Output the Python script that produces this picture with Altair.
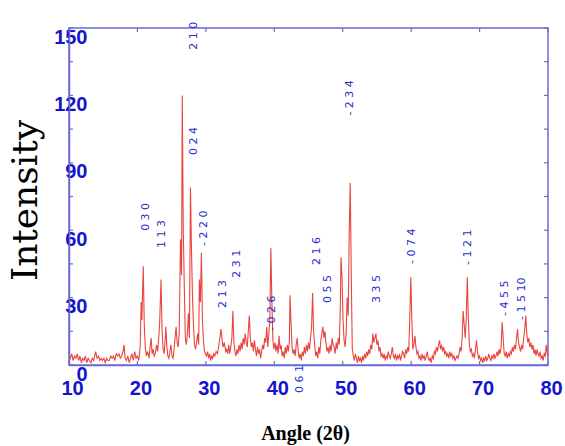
import altair as alt
import pandas as pd

# ---------------- data ----------------
angle = [
    10.0, 10.2, 10.4, 10.6, 10.8, 11.0, 11.2, 11.4, 11.6, 11.8, 12.0, 12.2, 12.4, 12.6, 12.8,
    13.0, 13.2, 13.4, 13.6, 13.9, 14.1, 14.3, 14.5, 14.7, 14.9, 15.1, 15.3, 15.5, 15.7, 15.9,
    16.1, 16.3, 16.5, 16.7, 16.9, 17.1, 17.3, 17.5, 17.7, 17.9, 18.05, 18.2, 18.4, 18.6, 18.8,
    19.0, 19.2, 19.4, 19.6, 19.8, 20.0, 20.2, 20.4, 20.55, 20.65, 20.85, 21.0, 21.15, 21.3, 21.5,
    21.7, 21.85, 22.0, 22.15, 22.3, 22.45, 22.6, 22.8, 22.95, 23.1, 23.25, 23.45, 23.6, 23.75, 23.9,
    24.05, 24.15, 24.3, 24.45, 24.6, 24.75, 24.9, 25.05, 25.2, 25.35, 25.5, 25.65, 25.8, 25.95, 26.1,
    26.3, 26.45, 26.55, 26.7, 26.85, 27.0, 27.15, 27.3, 27.45, 27.6, 27.75, 27.9, 28.05, 28.2, 28.35,
    28.5, 28.65, 28.8, 28.95, 29.05, 29.2, 29.35, 29.5, 29.65, 29.8, 29.95, 30.1, 30.25, 30.4, 30.55,
    30.7, 30.85, 31.0, 31.15, 31.3, 31.5, 31.7, 31.9, 32.05, 32.2, 32.35, 32.5, 32.7, 32.9, 33.05,
    33.2, 33.35, 33.5, 33.65, 33.8, 33.95, 34.1, 34.25, 34.4, 34.55, 34.7, 34.85, 35.0, 35.15, 35.3,
    35.45, 35.6, 35.75, 35.9, 36.05, 36.2, 36.35, 36.5, 36.65, 36.8, 36.95, 37.1, 37.25, 37.4, 37.55,
    37.7, 37.85, 38.0, 38.15, 38.3, 38.45, 38.6, 38.75, 38.9, 39.05, 39.2, 39.35, 39.5, 39.65, 39.8,
    39.95, 40.1, 40.25, 40.4, 40.55, 40.7, 40.85, 41.0, 41.15, 41.3, 41.45, 41.6, 41.75, 41.9, 42.05,
    42.2, 42.3, 42.45, 42.6, 42.75, 42.9, 43.05, 43.2, 43.35, 43.5, 43.65, 43.8, 43.95, 44.1, 44.25,
    44.4, 44.55, 44.7, 44.85, 45.0, 45.15, 45.3, 45.45, 45.6, 45.75, 45.9, 46.05, 46.2, 46.35, 46.5,
    46.65, 46.8, 46.95, 47.1, 47.25, 47.4, 47.55, 47.7, 47.85, 48.0, 48.15, 48.3, 48.45, 48.6, 48.75,
    48.9, 49.05, 49.2, 49.35, 49.5, 49.65, 49.75, 49.9, 50.05, 50.2, 50.35, 50.5, 50.65, 50.8, 50.95,
    51.1, 51.25, 51.4, 51.55, 51.7, 51.85, 52.0, 52.15, 52.3, 52.45, 52.6, 52.75, 52.9, 53.05, 53.2,
    53.35, 53.5, 53.65, 53.8, 53.95, 54.1, 54.25, 54.4, 54.55, 54.7, 54.85, 55.0, 55.15, 55.3, 55.45,
    55.6, 55.75, 55.9, 56.05, 56.2, 56.35, 56.5, 56.65, 56.8, 56.95, 57.1, 57.25, 57.4, 57.55, 57.7,
    57.85, 58.0, 58.15, 58.3, 58.45, 58.6, 58.75, 58.9, 59.05, 59.2, 59.35, 59.5, 59.65, 59.8, 59.95,
    60.1, 60.25, 60.4, 60.55, 60.7, 60.85, 61.0, 61.15, 61.3, 61.45, 61.6, 61.75, 61.9, 62.05, 62.2,
    62.35, 62.5, 62.65, 62.8, 62.95, 63.1, 63.25, 63.4, 63.55, 63.7, 63.85, 64.0, 64.15, 64.3, 64.45,
    64.6, 64.75, 64.9, 65.05, 65.2, 65.35, 65.5, 65.65, 65.8, 65.95, 66.1, 66.25, 66.4, 66.55, 66.7,
    66.85, 67.0, 67.15, 67.3, 67.45, 67.6, 67.75, 67.9, 68.05, 68.2, 68.35, 68.5, 68.65, 68.8, 68.95,
    69.1, 69.25, 69.4, 69.55, 69.7, 69.85, 70.0, 70.15, 70.3, 70.45, 70.6, 70.75, 70.9, 71.05, 71.2,
    71.35, 71.5, 71.65, 71.8, 71.95, 72.1, 72.25, 72.4, 72.55, 72.7, 72.85, 73.0, 73.15, 73.3, 73.45,
    73.6, 73.75, 73.9, 74.05, 74.2, 74.35, 74.5, 74.65, 74.8, 74.95, 75.1, 75.25, 75.4, 75.55, 75.7,
    75.85, 76.0, 76.15, 76.3, 76.45, 76.6, 76.75, 76.9, 77.05, 77.2, 77.35, 77.5, 77.65, 77.8, 77.95,
    78.1, 78.25, 78.4, 78.55, 78.7, 78.85, 79.0, 79.15, 79.3, 79.45, 79.6, 79.75, 79.9, 80.0,
]
intensity = [
    4, 3, 5, 2, 4, 3, 5, 2, 4, 1, 3, 2, 4, 1, 3,
    2, 1, 3, 2, 6, 3, 4, 2, 3, 2, 3, 1, 3, 2, 2,
    4, 3, 4, 2, 5, 4, 5, 3, 4, 6, 9, 3, 2, 4, 1,
    3, 5, 2, 6, 3, 4, 2, 8, 28, 20, 44, 18, 8, 4, 6,
    3, 8, 12, 5, 7, 4, 5, 9, 6, 11, 19, 38, 15, 7, 5,
    11, 17, 8, 4, 3, 6, 9, 4, 3, 7, 12, 17, 10, 8, 14,
    56, 40, 120, 60, 35, 12, 9, 14, 23, 12, 79, 51, 30, 17, 9,
    7, 10, 14, 9, 38, 28, 50, 20, 11, 6, 5, 4, 6, 3, 5,
    2, 4, 3, 5, 4, 6, 5, 9, 12, 16, 12, 8, 10, 6, 7,
    5, 9, 5, 8, 12, 24, 10, 6, 4, 7, 5, 9, 6, 10, 7,
    12, 9, 14, 10, 8, 15, 22, 12, 8, 10, 6, 11, 7, 4, 8,
    5, 7, 3, 6, 9, 7, 12, 10, 17, 8, 14, 20, 52, 28, 11,
    7, 10, 6, 9, 5, 13, 7, 9, 4, 6, 3, 8, 5, 9, 6,
    10, 31, 18, 8, 5, 7, 4, 9, 12, 6, 3, 5, 2, 6, 4,
    8, 5, 9, 6, 10, 7, 12, 17, 32, 15, 9, 4, 6, 3, 8,
    5, 11, 14, 17, 12, 15, 10, 6, 8, 5, 9, 6, 12, 9, 8,
    5, 10, 7, 12, 9, 26, 48, 39, 20, 11, 8, 14, 30, 22, 59,
    81, 40, 7, 4, 2, 5, 3, 1, 4, 2, 3, 1, 4, 2, 5,
    3, 6, 4, 7, 5, 9, 7, 14, 10, 12, 14, 9, 11, 6, 8,
    4, 5, 3, 5, 2, 4, 3, 6, 4, 3, 5, 8, 4, 3, 5,
    2, 4, 3, 5, 2, 4, 6, 5, 3, 7, 5, 8, 6, 21, 39,
    20, 7, 9, 13, 8, 5, 6, 3, 4, 2, 5, 3, 4, 2, 4,
    6, 3, 2, 3, 1, 4, 3, 6, 5, 8, 6, 9, 11, 7, 9,
    6, 8, 5, 6, 4, 5, 3, 6, 4, 5, 3, 4, 2, 3, 4,
    3, 5, 8, 6, 12, 24, 18, 12, 20, 39, 22, 9, 6, 7, 4,
    5, 3, 7, 11, 6, 3, 4, 2, 3, 1, 3, 2, 4, 2, 3,
    5, 3, 2, 4, 3, 5, 3, 4, 6, 4, 7, 5, 8, 19, 12,
    5, 4, 6, 3, 5, 4, 6, 5, 8, 6, 9, 7, 12, 16, 10,
    8, 6, 9, 7, 12, 16, 22, 14, 10, 12, 8, 10, 7, 9, 5,
    7, 4, 7, 5, 4, 6, 3, 4, 2, 5, 4, 9, 5, 4,
]

x_ticks = [10, 20, 30, 40, 50, 60, 70, 80]
y_ticks = [0, 15, 30, 45, 60, 75, 90, 105, 120, 135, 150]
y_labels = [0, 30, 60, 90, 120, 150]

peak_labels = [
    "0  3  0", "1  1  3", "2  1  0", "0  2  4", "-      2  2  0", "2  1  3", "2  3  1",
    "-     0  2  6", "0  6  1", "2  1  6", "0  5  5", "-      2  3  4", "3  3  5",
    "-      0  7  4", "-      1  2  1", "-      4  5  5", "-      1  5  10",
]
peak_angle = [21.27, 23.6, 28.3, 28.3, 29.77, 32.5, 34.6, 39.7, 43.7, 46.2, 47.8, 51.0,
              54.95, 60.07, 68.27, 73.7, 76.2]
peak_pos = [59.7, 52.1, 140.3, 93.5, 53.0, 25.4, 38.8, 15.1, -12.5, 44.5, 27.6, 111.0,
            27.6, 45.0, 44.5, 21.8, 20.0]

# ---------------- chart ----------------
W, H = 479, 337
FRAME = "#6b6bd6"
LABEL_BLUE = "#1414cc"
ANN_BLUE = "#2c2cc8"
RED = "#e8453f"

xs = alt.Scale(domain=[10, 80], nice=False, zero=False)
ys = alt.Scale(domain=[0, 150], nice=False, zero=False)

x_axis = alt.Axis(
    values=x_ticks, title="Angle (2θ)", grid=False, ticks=False,
    domainColor=FRAME, domainWidth=1.5,
    labelFont="Liberation Sans", labelFontWeight="bold", labelFontSize=20,
    labelColor=LABEL_BLUE, labelPadding=13, labelOffset=3,
    labelFlush=False, labelOverlap=False, labelBaseline="top",
    titleFont="Liberation Serif", titleFontWeight="bold", titleFontSize=20,
    titleColor="black", titleX=236, titleY=68, titleBaseline="middle",
    titleAlign="center",
)
y_axis = alt.Axis(
    values=y_labels, title="Intensity", grid=False, ticks=False,
    domainColor=FRAME, domainWidth=1.5,
    labelFont="Liberation Sans", labelFontWeight="bold", labelFontSize=20,
    labelColor=LABEL_BLUE, labelPadding=-18, labelOffset=9,
    labelAlign="right", labelBaseline="middle",
    labelFlush=False, labelOverlap=False,
    titleFont="DejaVu Serif", titleFontWeight="normal", titleFontSize=36,
    titleColor="black", titleAngle=270, titleX=-44, titleY=172,
    titleBaseline="middle", titleAlign="center",
)

trace = pd.DataFrame({"angle": angle, "intensity": intensity})

line = alt.Chart(trace).mark_line(color=RED, strokeWidth=1.1, clip=True).encode(
    x=alt.X("angle:Q", scale=xs, axis=x_axis, title="Angle (2θ)"),
    y=alt.Y("intensity:Q", scale=ys, axis=y_axis, title="Intensity"),
)

xt = pd.DataFrame({"t": x_ticks})
yt = pd.DataFrame({"t": y_ticks})

xtick_bottom = alt.Chart(xt).mark_rule(color=FRAME, strokeWidth=1.2).encode(
    x=alt.X("t:Q", scale=xs, axis=x_axis, title="Angle (2θ)"),
    y=alt.value(H), y2=alt.value(H - 4))
xtick_top = alt.Chart(xt).mark_rule(color=FRAME, strokeWidth=1.2).encode(
    x=alt.X("t:Q", scale=xs, axis=x_axis, title="Angle (2θ)"),
    y=alt.value(0), y2=alt.value(4))
ytick_left = alt.Chart(yt).mark_rule(color=FRAME, strokeWidth=1.2).encode(
    y=alt.Y("t:Q", scale=ys, axis=y_axis, title="Intensity"),
    x=alt.value(0), x2=alt.value(4))
ytick_right = alt.Chart(yt).mark_rule(color=FRAME, strokeWidth=1.2).encode(
    y=alt.Y("t:Q", scale=ys, axis=y_axis, title="Intensity"),
    x=alt.value(W), x2=alt.value(W - 4))

ann = pd.DataFrame({"a": peak_angle, "v": peak_pos, "lab": peak_labels})
labels = alt.Chart(ann).mark_text(
    angle=270, align="left", baseline="middle", font="DejaVu Sans",
    fontSize=11, color=ANN_BLUE,
).encode(
    x=alt.X("a:Q", scale=xs, axis=x_axis, title="Angle (2θ)"),
    y=alt.Y("v:Q", scale=ys, axis=y_axis, title="Intensity"),
    text="lab:N",
)

chart = alt.layer(
    line, xtick_bottom, xtick_top, ytick_left, ytick_right, labels
).properties(
    width=W, height=H,
    padding={"left": 69, "top": 28, "right": 17, "bottom": 81},
    autosize=alt.AutoSizeParams(type="none"),
    background="white",
).configure_view(stroke=FRAME, strokeWidth=1.5)

chart.save("out.html", embed_options={"renderer": "svg", "actions": False})
